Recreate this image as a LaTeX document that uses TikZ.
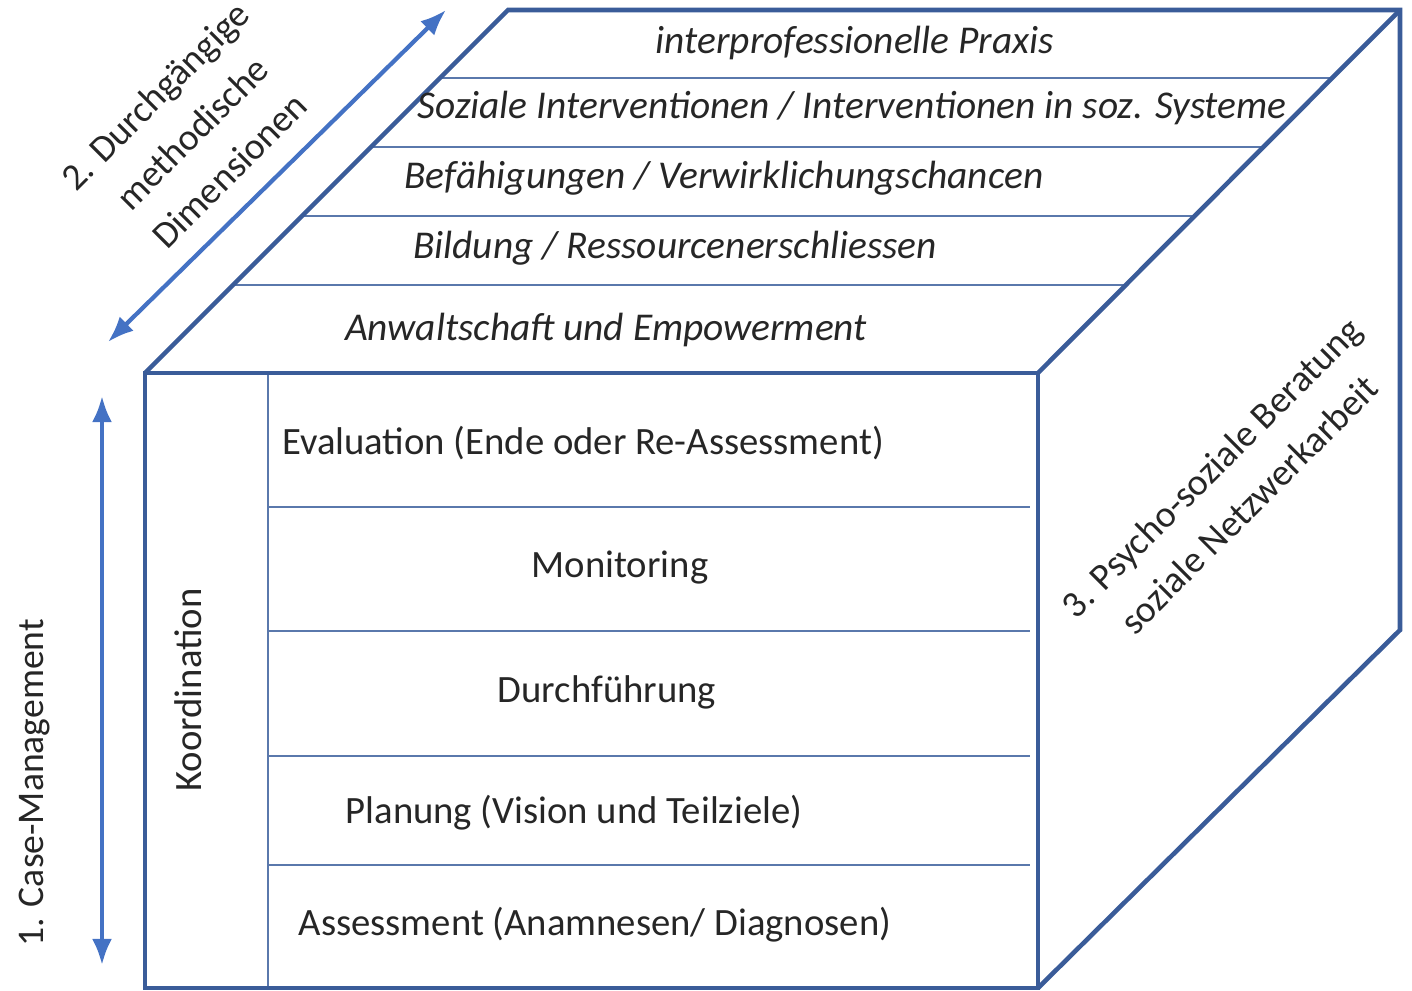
\documentclass[tikz,border=0pt]{standalone}
\usepackage{fontspec}
\setmainfont{Carlito}
\usepackage{tikz}
\usetikzlibrary{arrows.meta,positioning,calc}
\definecolor{cubeblue}{HTML}{3A5C99}
\definecolor{arrowblue}{HTML}{4472C4}
\definecolor{lineblue}{HTML}{5A78AC}

\begin{document}
\begin{tikzpicture}[x=0.01cm,y=-0.01cm,
		frame/.style={draw=cubeblue,line width=1.3pt,line join=miter},
		sep/.style={draw=lineblue,line width=0.5pt},
		lvl/.style={font=\fontsize{11}{13}\selectfont,text=black!85,inner sep=0pt},
		dim/.style={font=\fontsize{11.2}{13}\selectfont\itshape,text=black!85,inner sep=0pt},
		lab/.style={font=\fontsize{10.7}{15}\selectfont,text=black!85,align=center,inner sep=0pt},
		a/.style={{Latex[length=2.6mm,width=2mm]}-{Latex[length=2.6mm,width=2mm]},draw=arrowblue,line width=1.2pt}
		]
		\useasboundingbox (0,0) rectangle (1412,991);
		% cube corners
		\coordinate (ftl) at (145,373);
		\coordinate (ftr) at (1038,373);
		\coordinate (fbl) at (145,988);
		\coordinate (fbr) at (1038,988);
		\coordinate (btl) at (508,10);
		\coordinate (btr) at (1400,10);
		\coordinate (bbr) at (1400,630);
		% top face layers
		\foreach \y in {78,147,216,285}
			\draw[sep] ($(ftl)!{(373-\y)/363}!(btl)$) -- ($(ftr)!{(373-\y)/363}!(btr)$);
		% front face rows
		\draw[sep] (268,373) -- (268,988);
		\foreach \y in {507,631,756,865}
			\draw[sep] (268,\y) -- (1030,\y);
		% outline
		\draw[frame] (ftl) -- (btl) -- (btr) -- (bbr) -- (fbr);
		\draw[frame] (btr) -- (ftr);
		\draw[frame] (ftl) rectangle (fbr);
		% top face texts
		\node[dim] (t1) at (855,43) {interprofessionelle Praxis};
		\node[dim] (t2) at (852,108) {Soziale Interventionen / Interventionen in soz. Systeme};
		\node[dim] (t3) at (724,178) {Befähigungen / Verwirklichungschancen};
		\node[dim] (t4) at (675,248) {Bildung / Ressourcenerschliessen};
		\node[dim] (t5) at (606,330) {Anwaltschaft und Empowerment};
		% front face texts
		\node[lvl] (f1) at (583,443) {Evaluation (Ende oder Re-Assessment)};
		\node[lvl] (f2) at (620,568) {Monitoring};
		\node[lvl] (f3) at (607,692) {Durchführung};
		\node[lvl] (f4) at (574,813) {Planung (Vision und Teilziele)};
		\node[lvl] (f5) at (595,925) {Assessment (Anamnesen/ Diagnosen)};
		\node[lvl,rotate=90] (ko) at (188,690) {Koordination};
		% axis labels
		\node[lab,rotate=45] (md) at (192,133) {2. Durchgängige\\methodische\\Dimensionen};
		\node[lab,rotate=45] (pb) at (1230,486) {3. Psycho-soziale Beratung\\soziale Netzwerkarbeit};
		\node[lab,rotate=90] (cm) at (35,783) {1. Case-Management};
		% axis arrows
		\coordinate (cmtop) at (102,396);
		\coordinate (cmbot) at (102,965);
		\coordinate (mdlow) at (108,342);
		\coordinate (mdup) at (446,10);
		\draw[a] (cmtop) -- (cmbot);
		\draw[a] (mdlow) -- (mdup);
	\end{tikzpicture}
\end{document}
